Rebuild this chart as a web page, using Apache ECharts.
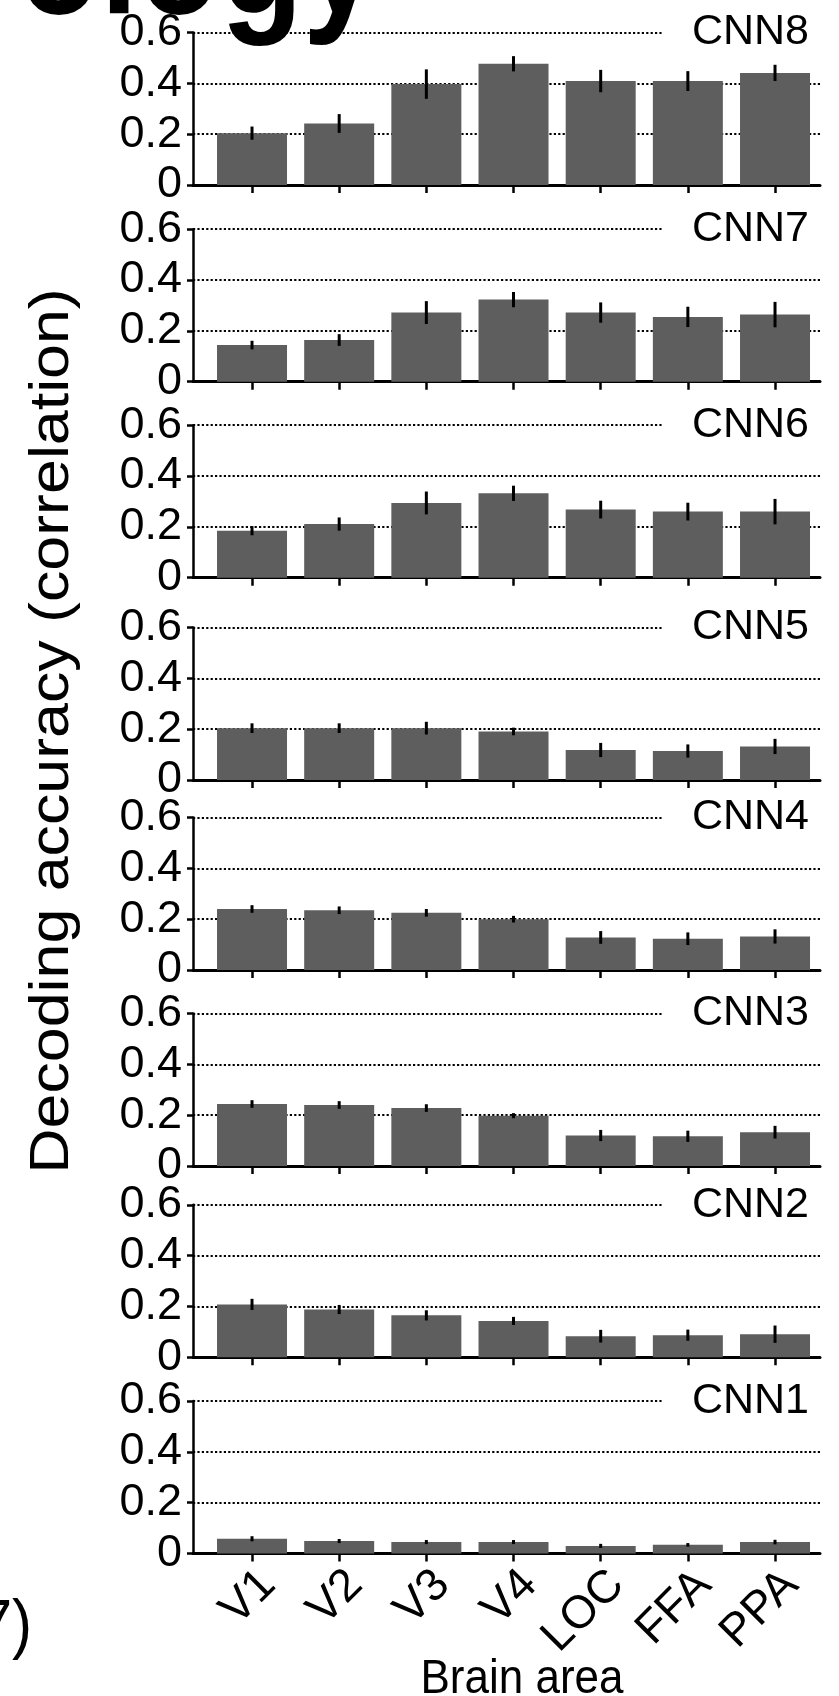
<!DOCTYPE html>
<html><head><meta charset="utf-8">
<script src="https://cdn.jsdelivr.net/npm/echarts@6/dist/echarts.min.js"></script>
<style>html,body{margin:0;padding:0;background:#fff}#c{width:839px;height:1696px}</style>
</head><body><div id="c"></div>
<script>
// ---- data ----
const categories = ['V1', 'V2', 'V3', 'V4', 'LOC', 'FFA', 'PPA'];
const layers = ['CNN8', 'CNN7', 'CNN6', 'CNN5', 'CNN4', 'CNN3', 'CNN2', 'CNN1'];
const yTicks = [0, 0.2, 0.4, 0.6];

const cnn8 = [0.204, 0.242, 0.397, 0.477, 0.409, 0.409, 0.441];
const cnn8Err = [0.026, 0.037, 0.058, 0.030, 0.044, 0.039, 0.032];
const cnn7 = [0.144, 0.164, 0.272, 0.323, 0.272, 0.255, 0.264];
const cnn7Err = [0.017, 0.023, 0.045, 0.030, 0.040, 0.040, 0.050];
const cnn6 = [0.185, 0.211, 0.294, 0.332, 0.268, 0.260, 0.260];
const cnn6Err = [0.018, 0.026, 0.045, 0.030, 0.035, 0.035, 0.050];
const cnn5 = [0.204, 0.204, 0.204, 0.191, 0.118, 0.114, 0.132];
const cnn5Err = [0.019, 0.019, 0.025, 0.015, 0.028, 0.026, 0.030];
const cnn4 = [0.240, 0.235, 0.225, 0.200, 0.128, 0.123, 0.132];
const cnn4Err = [0.015, 0.015, 0.015, 0.013, 0.025, 0.025, 0.028];
const cnn3 = [0.244, 0.240, 0.228, 0.198, 0.120, 0.117, 0.133];
const cnn3Err = [0.015, 0.015, 0.015, 0.010, 0.022, 0.022, 0.025];
const cnn2 = [0.208, 0.188, 0.165, 0.143, 0.083, 0.087, 0.091];
const cnn2Err = [0.022, 0.018, 0.020, 0.016, 0.025, 0.022, 0.034];
const cnn1 = [0.058, 0.049, 0.045, 0.045, 0.030, 0.034, 0.045];
const cnn1Err = [0.010, 0.008, 0.008, 0.008, 0.008, 0.007, 0.009];

const panelValues = [cnn8, cnn7, cnn6, cnn5, cnn4, cnn3, cnn2, cnn1];
const panelErrors = [cnn8Err, cnn7Err, cnn6Err, cnn5Err, cnn4Err, cnn3Err, cnn2Err, cnn1Err];

// ---- layout ----
const FONT = '"Liberation Sans", Arial, Helvetica, sans-serif';
const zeroLines = [185, 381.7, 577.7, 780, 970, 1166, 1357.3, 1553.5];
const panelH = 152.5;
const gridLeft = 193, gridRight = 19;
const xMin = -0.677, xMax = 6.516;
const idx = categories.map((c, i) => i);

const chart = echarts.init(document.getElementById('c'), null, {renderer: 'canvas'});
const grids = [], xAxes = [], yAxes = [], series = [], titles = [];

layers.forEach((name, p) => {
  const top = zeroLines[p] - panelH;
  const last = p === layers.length - 1;
  grids.push({left: gridLeft, right: gridRight, top: top, height: panelH, containLabel: false});
  xAxes.push({
    type: 'value', gridIndex: p, min: xMin, max: xMax,
    axisLine: {show: true, onZero: false, lineStyle: {color: '#000', width: 3}},
    axisTick: {show: true, customValues: idx, length: 8, lineStyle: {color: '#000', width: 2.5}},
    axisLabel: {show: last, customValues: idx, rotate: 45, margin: 8, fontSize: 46,
      verticalAlign: 'top',
      fontFamily: FONT, color: '#000', formatter: v => categories[Math.round(v)] || ''},
    splitLine: {show: false}
  });
  yAxes.push({
    type: 'value', gridIndex: p, min: yTicks[0], max: yTicks[yTicks.length - 1], interval: 0.2,
    axisLine: {show: true, onZero: false, lineStyle: {color: '#000', width: 2.5}},
    axisTick: {show: true, length: 6, lineStyle: {color: '#000', width: 2.5}},
    axisLabel: {fontSize: 45, fontFamily: FONT, color: '#000', margin: 11,
      formatter: v => String(Math.round(v * 10) / 10)},
    splitLine: {show: true, lineStyle: {color: '#000', width: 2.2, type: [2.2, 2.2]}}
  });
  series.push({
    type: 'bar', xAxisIndex: p, yAxisIndex: p, barWidth: 70,
    itemStyle: {color: '#5e5e5e'},
    data: panelValues[p].map((v, i) => [i, v]),
    silent: true, animation: false
  });
  series.push({
    type: 'custom', xAxisIndex: p, yAxisIndex: p, z: 5, animation: false, silent: true,
    data: panelValues[p].map((v, i) => [i, v, panelErrors[p][i]]),
    renderItem: (params, api) => {
      const x = api.value(0), v = api.value(1), e = api.value(2);
      const a = api.coord([x, v - e]), b = api.coord([x, v + e]);
      return {type: 'line', shape: {x1: a[0], y1: a[1], x2: b[0], y2: b[1]},
        style: {stroke: '#000', lineWidth: 3}};
    }
  });
  titles.push({
    text: name, right: gridRight, top: top - 25,
    backgroundColor: '#fff', padding: [4, 11, 4, 30],
    textStyle: {fontSize: 43, lineHeight: 42, fontWeight: 'normal', fontFamily: FONT, color: '#000'}
  });
});

chart.setOption({
  animation: false,
  backgroundColor: '#fff',
  title: titles,
  grid: grids, xAxis: xAxes, yAxis: yAxes, series: series,
  graphic: [
    {type: 'text', x: 378, y: -30, scaleY: 1.15, z: 100,
      style: {text: 'ology', font: 'bold 135px ' + FONT, fill: '#000', textAlign: 'right', textVerticalAlign: 'middle'}},
    {type: 'text', x: 53, y: 731, rotation: Math.PI / 2, scaleX: 1.12,
      style: {text: 'Decoding accuracy (correlation)', font: '56px ' + FONT, fill: '#000', textAlign: 'center', textVerticalAlign: 'middle'}},
    {type: 'text', x: 522, y: 1680, scaleY: 1.1,
      style: {text: 'Brain area', font: '44px ' + FONT, fill: '#000', textAlign: 'center', textVerticalAlign: 'middle'}},
    {type: 'text', x: 32, y: 1627, scaleY: 1.12,
      style: {text: '7)', font: '60px ' + FONT, fill: '#000', textAlign: 'right', textVerticalAlign: 'middle'}}
  ]
});
</script></body></html>
